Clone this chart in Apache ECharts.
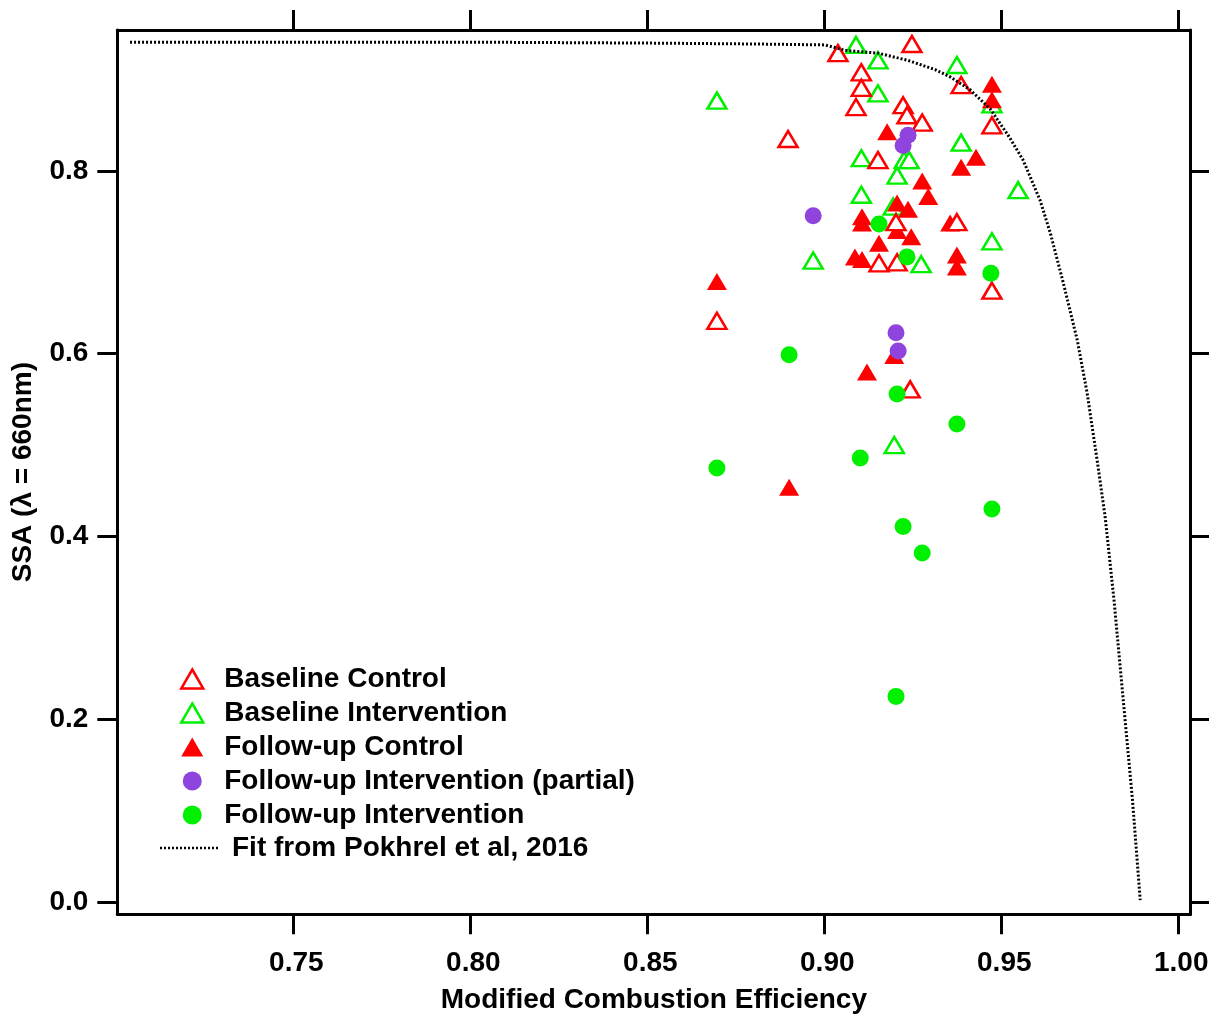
<!DOCTYPE html>
<html>
<head>
<meta charset="utf-8">
<title>SSA vs MCE</title>
<script src="https://cdn.jsdelivr.net/npm/echarts@6/dist/echarts.min.js"></script>
<style>
  html, body { margin: 0; padding: 0; background: #ffffff; }
  #chart { width: 1209px; height: 1014px; }
</style>
</head>
<body>
<div id="chart"></div>
<script>
// ---- data: modified combustion efficiency (MCE) and single scattering albedo (SSA) ----
const baselineControlMCE = [0.9040, 0.9249, 0.9106, 0.9106, 0.9091, 0.9224, 0.9235, 0.9278, 0.9388, 0.8899,
  0.9153, 0.9475, 0.9475, 0.8698, 0.9156, 0.9207, 0.9376, 0.9204, 0.9244];
const baselineControlSSA = [0.929, 0.939, 0.908, 0.891, 0.870, 0.872, 0.861, 0.853, 0.894, 0.835,
  0.812, 0.850, 0.669, 0.636, 0.699, 0.700, 0.744, 0.744, 0.561];

const baselineInterventionMCE = [0.9091, 0.9153, 0.9376, 0.8698, 0.9153, 0.9475, 0.9388, 0.9106, 0.9227, 0.9241,
  0.9207, 0.9549, 0.9106, 0.9196, 0.8970, 0.9275, 0.9475, 0.9199];
const baselineInterventionSSA = [0.938, 0.921, 0.916, 0.877, 0.885, 0.873, 0.831, 0.814, 0.812, 0.812,
  0.795, 0.779, 0.774, 0.761, 0.702, 0.698, 0.723, 0.500];

const followUpControlMCE = [0.9475, 0.9475, 0.9179, 0.9430, 0.9388, 0.9278, 0.9295, 0.9207, 0.9238, 0.9108,
  0.9108, 0.9357, 0.9207, 0.9247, 0.9156, 0.9088, 0.9108, 0.9376, 0.9376, 0.8698, 0.9199, 0.9122, 0.8902];
const followUpControlSSA = [0.895, 0.878, 0.843, 0.815, 0.804, 0.789, 0.772, 0.765, 0.758, 0.750,
  0.743, 0.743, 0.735, 0.728, 0.721, 0.706, 0.703, 0.708, 0.695, 0.679, 0.598, 0.580, 0.454];

const followUpPartialMCE = [0.9238, 0.9224, 0.8970, 0.9204, 0.9210];
const followUpPartialSSA = [0.839, 0.828, 0.751, 0.623, 0.603];

const followUpInterventionMCE = [0.9156, 0.9235, 0.9472, 0.8902, 0.9207, 0.9376, 0.9103, 0.8698, 0.9475, 0.9224,
  0.9278, 0.9204];
const followUpInterventionSSA = [0.742, 0.706, 0.688, 0.599, 0.556, 0.523, 0.486, 0.475, 0.430, 0.411,
  0.382, 0.225];

// fit curve (Pokhrel et al., 2016), sampled along the plotted line
const fitMCE = [0.7040, 0.7500, 0.8000, 0.8500, 0.8800, 0.9003, 0.9060, 0.9153, 0.9238, 0.9314, 0.9357,
  0.9413, 0.9470, 0.9526, 0.9563, 0.9611, 0.9640, 0.9677, 0.9716, 0.9744, 0.9772, 0.9795, 0.9820,
  0.9846, 0.9872, 0.9894];
const fitSSA = [0.941, 0.941, 0.941, 0.940, 0.939, 0.938, 0.932, 0.929, 0.921, 0.911, 0.903,
  0.889, 0.868, 0.836, 0.812, 0.768, 0.732, 0.677, 0.615, 0.557, 0.484, 0.421, 0.330,
  0.221, 0.112, 0.002];

// axis ranges and tick positions
const xMin = 0.7004, xMax = 1.0036;
const yMin = -0.0135, yMax = 0.9543;
const xTicks = [0.75, 0.80, 0.85, 0.90, 0.95, 1.00];
const yTicks = [0.0, 0.2, 0.4, 0.6, 0.8];

const names = {
  bc: 'Baseline Control',
  bi: 'Baseline Intervention',
  fc: 'Follow-up Control',
  fp: 'Follow-up Intervention (partial)',
  fi: 'Follow-up Intervention',
  fit: 'Fit from Pokhrel et al, 2016'
};

const pairs = (xs, ys) => xs.map((x, i) => [x, ys[i]]);

const RED = '#ff0000', GREEN = '#00f000', PURPLE = '#8e44dd';
const FONT = '"Liberation Sans", Arial, sans-serif';

// dotted-line legend glyph: a row of small squares
let dotPath = 'path://';
for (let i = 0; i < 15; i++) dotPath += 'M' + (i * 4) + ',0h2v2.5h-2Z';

const chart = echarts.init(document.getElementById('chart'), null, { renderer: 'canvas' });

const axisLine = { show: true, onZero: false, lineStyle: { color: '#000', width: 3 } };
const tickStyle = { color: '#000', width: 3 };
const legendText = { fontFamily: FONT, fontSize: 28, fontWeight: 'bold', color: '#000', lineHeight: 28 };

const option = {
  backgroundColor: '#ffffff',
  animation: false,
  grid: { left: 117.3, right: 18.5, top: 30, bottom: 99.7, containLabel: false, outerBoundsMode: 'none' },
  legend: [
    {
      orient: 'vertical',
      left: 175,
      top: 660,
      itemWidth: 22,
      itemHeight: 19,
      itemGap: 6,
      data: [
        { name: names.bc, itemStyle: { borderWidth: 2.5 } },
        { name: names.bi, itemStyle: { borderWidth: 2.5 } },
        { name: names.fc },
        { name: names.fp },
        { name: names.fi }
      ],
      textStyle: Object.assign({ padding: [0, 0, 0, 16] }, legendText)
    },
    {
      orient: 'vertical',
      left: 155,
      top: 829,
      itemWidth: 58,
      itemHeight: 19,
      symbolKeepAspect: true,
      data: [{ name: names.fit, icon: dotPath, itemStyle: { color: '#000' } }],
      textStyle: Object.assign({ padding: [0, 0, 0, 9] }, legendText)
    }
  ],
  xAxis: [
    {
      type: 'value', position: 'bottom', min: xMin, max: xMax,
      splitLine: { show: false },
      axisLine: axisLine,
      axisTick: { show: true, length: 20, lineStyle: tickStyle, customValues: xTicks },
      axisLabel: { customValues: xTicks, formatter: v => v.toFixed(2), margin: 35, padding: [0, 0, 0, 7],
        fontFamily: FONT, fontSize: 28, fontWeight: 'bold', color: '#000' },
      name: 'Modified Combustion Efficiency', nameLocation: 'middle', nameGap: 72,
      nameTextStyle: { fontFamily: FONT, fontSize: 28, fontWeight: 'bold', color: '#000' }
    },
    {
      type: 'value', position: 'top', min: xMin, max: xMax,
      splitLine: { show: false },
      axisLine: axisLine,
      axisTick: { show: true, length: 20, lineStyle: tickStyle, customValues: xTicks },
      axisLabel: { show: false }
    }
  ],
  yAxis: [
    {
      type: 'value', position: 'left', min: yMin, max: yMax,
      splitLine: { show: false },
      axisLine: axisLine,
      axisTick: { show: true, length: 20, lineStyle: tickStyle, customValues: yTicks },
      axisLabel: { customValues: yTicks, formatter: v => v.toFixed(1), margin: 29,
        fontFamily: FONT, fontSize: 28, fontWeight: 'bold', color: '#000' },
      name: 'SSA (λ = 660nm)', nameLocation: 'middle', nameGap: 80,
      nameTextStyle: { fontFamily: FONT, fontSize: 28, fontWeight: 'bold', color: '#000' }
    },
    {
      type: 'value', position: 'right', min: yMin, max: yMax,
      splitLine: { show: false },
      axisLine: axisLine,
      axisTick: { show: true, length: 20, lineStyle: tickStyle, customValues: yTicks },
      axisLabel: { show: false }
    }
  ],
  series: [
    {
      name: names.bi, type: 'scatter', symbol: 'triangle', symbolSize: [19, 16],
      itemStyle: { color: '#ffffff', borderColor: GREEN, borderWidth: 2.5, opacity: 1 },
      data: pairs(baselineInterventionMCE, baselineInterventionSSA)
    },
    {
      name: names.fc, type: 'scatter', symbol: 'triangle', symbolSize: [20, 17],
      itemStyle: { color: RED, opacity: 1 },
      data: pairs(followUpControlMCE, followUpControlSSA)
    },
    {
      name: names.bc, type: 'scatter', symbol: 'triangle', symbolSize: [19, 16],
      itemStyle: { color: '#ffffff', borderColor: RED, borderWidth: 2.5, opacity: 1 },
      data: pairs(baselineControlMCE, baselineControlSSA)
    },
    {
      name: names.fp, type: 'scatter', symbol: 'circle', symbolSize: 17,
      itemStyle: { color: PURPLE, opacity: 1 },
      data: pairs(followUpPartialMCE, followUpPartialSSA)
    },
    {
      name: names.fi, type: 'scatter', symbol: 'circle', symbolSize: 17,
      itemStyle: { color: GREEN, opacity: 1 },
      data: pairs(followUpInterventionMCE, followUpInterventionSSA)
    },
    {
      name: names.fit, type: 'line', symbol: 'none', showSymbol: false, z: 5,
      lineStyle: { color: '#000', width: 3, type: [2, 2] },
      itemStyle: { color: '#000' },
      data: pairs(fitMCE, fitSSA)
    }
  ]
};

chart.setOption(option);
</script>
</body>
</html>
